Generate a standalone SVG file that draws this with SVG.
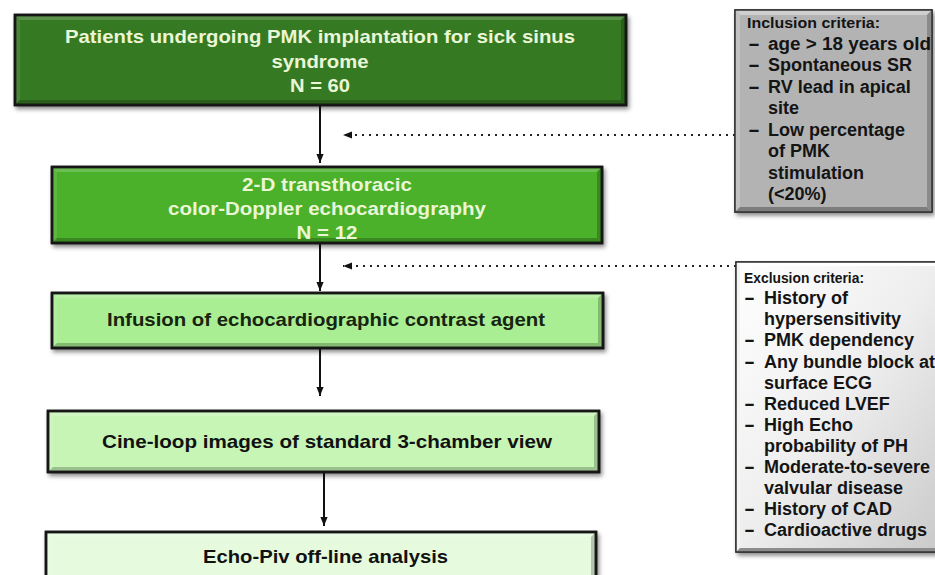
<svg xmlns="http://www.w3.org/2000/svg" width="935" height="575" viewBox="0 0 935 575">
  <style>
    .t{font-family:"Liberation Sans",Arial,Helvetica,sans-serif;font-weight:bold;}
    .main{font-size:19px;text-anchor:middle;}
    .light{fill:#eaf6d6;}
    .dark{fill:#17240f;}
    .blk{fill:#111;}
    .box{stroke:#161616;stroke-width:2.5;}
    .hi{fill:#fff;fill-opacity:0.18;}
    .hi2{fill:#fff;fill-opacity:0.1;}
    .sh{fill:#000;fill-opacity:0.22;}
    .conn{stroke:#111;stroke-width:2;fill:none;}
    .dot{stroke:#222;stroke-width:2;fill:none;stroke-dasharray:2 5;}
    .crit{font-size:18px;fill:#141414;}
    .hdr{font-size:15.5px;fill:#141414;}
  </style>
  <defs>
    <filter id="ds" x="-5%" y="-10%" width="112%" height="130%">
      <feDropShadow dx="2" dy="3" stdDeviation="2.2" flood-color="#000" flood-opacity="0.45"/>
    </filter>
    <marker id="ah" viewBox="0 0 10 10" refX="10" refY="5" markerWidth="9" markerHeight="9" markerUnits="userSpaceOnUse" orient="auto">
      <path d="M0,1 L10,5 L0,9 z" fill="#111"/>
    </marker>
    <linearGradient id="exg" x1="0" y1="0" x2="1" y2="1">
      <stop offset="0" stop-color="#ffffff"/>
      <stop offset="0.5" stop-color="#eeeeee"/>
      <stop offset="1" stop-color="#c9c9c9"/>
    </linearGradient>
  </defs>

  <rect width="935" height="575" fill="#ffffff"/>

  <g id="connectors">
    <line class="conn" x1="320" y1="106" x2="320" y2="163" marker-end="url(#ah)"/>
    <line class="conn" x1="320" y1="244" x2="320" y2="291" marker-end="url(#ah)"/>
    <line class="conn" x1="320" y1="349" x2="320" y2="396" marker-end="url(#ah)"/>
    <line class="conn" x1="324" y1="473" x2="324" y2="526" marker-end="url(#ah)"/>
    <line class="dot" x1="735" y1="135" x2="343" y2="135" marker-end="url(#ah)"/>
    <line class="dot" x1="736" y1="266" x2="343" y2="266" marker-end="url(#ah)"/>
  </g>

  <g id="node-patients">
    <rect class="box" x="15" y="15" width="611" height="90" fill="#367a23" filter="url(#ds)"/>
    <polygon class="hi" points="15,15 626,15 621,20 20,20"/>
    <polygon class="hi2" points="15,15 20,20 20,100 15,105"/>
    <polygon class="sh" points="15,105 20,100 621,100 626,105"/>
    <polygon class="sh" points="626,15 626,105 621,100 621,20"/>
    <rect x="15" y="15" width="611" height="90" fill="none" class="box"/>
    <text class="t main light" x="320" y="43" textLength="510" lengthAdjust="spacingAndGlyphs">Patients undergoing PMK implantation for sick sinus</text>
    <text class="t main light" x="320" y="67.5" textLength="97" lengthAdjust="spacingAndGlyphs">syndrome</text>
    <text class="t main light" x="320" y="92" textLength="60" lengthAdjust="spacingAndGlyphs">N = 60</text>
  </g>

  <g id="node-echo">
    <rect class="box" x="52" y="167" width="550" height="76" fill="#4cb02c" filter="url(#ds)"/>
    <polygon class="hi" points="52,167 602,167 597,172 57,172"/>
    <polygon class="hi2" points="52,167 57,172 57,238 52,243"/>
    <polygon class="sh" points="52,243 57,238 597,238 602,243"/>
    <polygon class="sh" points="602,167 602,243 597,238 597,172"/>
    <rect x="52" y="167" width="550" height="76" fill="none" class="box"/>
    <text class="t main light" x="327" y="190.5" textLength="170" lengthAdjust="spacingAndGlyphs">2-D transthoracic</text>
    <text class="t main light" x="327" y="214.5" textLength="318" lengthAdjust="spacingAndGlyphs">color-Doppler echocardiography</text>
    <text class="t main light" x="327" y="239" textLength="61" lengthAdjust="spacingAndGlyphs">N = 12</text>
  </g>

  <g id="node-infusion">
    <rect class="box" x="52" y="293" width="551" height="55" fill="#a9ee93" filter="url(#ds)"/>
    <polygon class="hi" points="52,293 603,293 598,298 57,298"/>
    <polygon class="hi2" points="52,293 57,298 57,343 52,348"/>
    <polygon class="sh" points="52,348 57,343 598,343 603,348"/>
    <polygon class="sh" points="603,293 603,348 598,343 598,298"/>
    <rect x="52" y="293" width="551" height="55" fill="none" class="box"/>
    <text class="t main dark" x="326" y="326" textLength="438" lengthAdjust="spacingAndGlyphs">Infusion of echocardiographic contrast agent</text>
  </g>

  <g id="node-cineloop">
    <rect class="box" x="48" y="411" width="551" height="61" fill="#c7f5b6" filter="url(#ds)"/>
    <polygon class="hi" points="48,411 599,411 594,416 53,416"/>
    <polygon class="hi2" points="48,411 53,416 53,467 48,472"/>
    <polygon class="sh" points="48,472 53,467 594,467 599,472"/>
    <polygon class="sh" points="599,411 599,472 594,467 594,416"/>
    <rect x="48" y="411" width="551" height="61" fill="none" class="box"/>
    <text class="t main blk" x="327" y="448" textLength="450" lengthAdjust="spacingAndGlyphs">Cine-loop images of standard 3-chamber view</text>
  </g>

  <g id="node-echopiv">
    <rect class="box" x="46" y="532" width="550" height="58" fill="#e6fbdd" filter="url(#ds)"/>
    <polygon class="hi" points="46,532 596,532 591,537 51,537"/>
    <polygon class="hi2" points="46,532 51,537 51,585 46,590"/>
    <polygon class="sh" points="596,532 596,590 591,585 591,537"/>
    <rect x="46" y="532" width="550" height="58" fill="none" class="box"/>
    <text class="t main blk" x="325.5" y="563" textLength="245" lengthAdjust="spacingAndGlyphs">Echo-Piv off-line analysis</text>
  </g>

  <g id="node-inclusion">
    <rect x="735" y="10" width="197" height="202" fill="#b3b3b3" stroke="#333" stroke-width="1.5" filter="url(#ds)"/>
    <polygon fill="#cfcfcf" points="735,10 932,10 927,15 740,15"/>
    <polygon fill="#c2c2c2" points="735,10 740,15 740,207 735,212"/>
    <polygon fill="#7d7d7d" points="735,212 740,207 927,207 932,212"/>
    <polygon fill="#8a8a8a" points="932,10 932,212 927,207 927,15"/>
    <rect x="735" y="10" width="197" height="202" fill="none" stroke="#333" stroke-width="1.5"/>
    <text class="t hdr" x="747" y="28" textLength="133" lengthAdjust="spacingAndGlyphs">Inclusion criteria:</text>
    <text class="t crit" x="748" y="49.5" textLength="12" lengthAdjust="spacingAndGlyphs">-</text>
    <text class="t crit" x="768" y="49.5" textLength="163" lengthAdjust="spacingAndGlyphs">age &gt; 18 years old</text>
    <text class="t crit" x="748" y="71" textLength="12" lengthAdjust="spacingAndGlyphs">-</text>
    <text class="t crit" x="768" y="71">Spontaneous SR</text>
    <text class="t crit" x="748" y="92.5" textLength="12" lengthAdjust="spacingAndGlyphs">-</text>
    <text class="t crit" x="768" y="92.5">RV lead in apical</text>
    <text class="t crit" x="768" y="114">site</text>
    <text class="t crit" x="748" y="135.5" textLength="12" lengthAdjust="spacingAndGlyphs">-</text>
    <text class="t crit" x="768" y="135.5">Low percentage</text>
    <text class="t crit" x="768" y="157">of PMK</text>
    <text class="t crit" x="768" y="178.5">stimulation</text>
    <text class="t crit" x="768" y="200">(&lt;20%)</text>
  </g>

  <g id="node-exclusion">
    <rect x="736" y="262" width="205" height="290" fill="url(#exg)" stroke="#333" stroke-width="1.5" filter="url(#ds)"/>
    <polygon fill="#ffffff" points="736,262 941,262 937,266 740,266"/>
    <polygon fill="#f4f4f4" points="736,262 740,266 740,548 736,552"/>
    <polygon fill="#8c8c8c" points="736,552 740,548 937,548 941,552"/>
    <rect x="736" y="262" width="205" height="290" fill="none" stroke="#333" stroke-width="1.5"/>
    <text class="t hdr" x="744" y="283" textLength="120" lengthAdjust="spacingAndGlyphs">Exclusion criteria:</text>
    <text class="t crit" x="744" y="304" textLength="11" lengthAdjust="spacingAndGlyphs">-</text>
    <text class="t crit" x="764" y="304">History of</text>
    <text class="t crit" x="764" y="325">hypersensitivity</text>
    <text class="t crit" x="744" y="346" textLength="11" lengthAdjust="spacingAndGlyphs">-</text>
    <text class="t crit" x="764" y="346">PMK dependency</text>
    <text class="t crit" x="744" y="367.5" textLength="11" lengthAdjust="spacingAndGlyphs">-</text>
    <text class="t crit" x="764" y="367.5">Any bundle block at</text>
    <text class="t crit" x="764" y="388.5">surface ECG</text>
    <text class="t crit" x="744" y="409.5" textLength="11" lengthAdjust="spacingAndGlyphs">-</text>
    <text class="t crit" x="764" y="409.5">Reduced LVEF</text>
    <text class="t crit" x="744" y="430.5" textLength="11" lengthAdjust="spacingAndGlyphs">-</text>
    <text class="t crit" x="764" y="430.5">High Echo</text>
    <text class="t crit" x="764" y="452">probability of PH</text>
    <text class="t crit" x="744" y="473" textLength="11" lengthAdjust="spacingAndGlyphs">-</text>
    <text class="t crit" x="764" y="473">Moderate-to-severe</text>
    <text class="t crit" x="764" y="494">valvular disease</text>
    <text class="t crit" x="744" y="515" textLength="11" lengthAdjust="spacingAndGlyphs">-</text>
    <text class="t crit" x="764" y="515">History of CAD</text>
    <text class="t crit" x="744" y="536" textLength="11" lengthAdjust="spacingAndGlyphs">-</text>
    <text class="t crit" x="764" y="536">Cardioactive drugs</text>
  </g>
</svg>
